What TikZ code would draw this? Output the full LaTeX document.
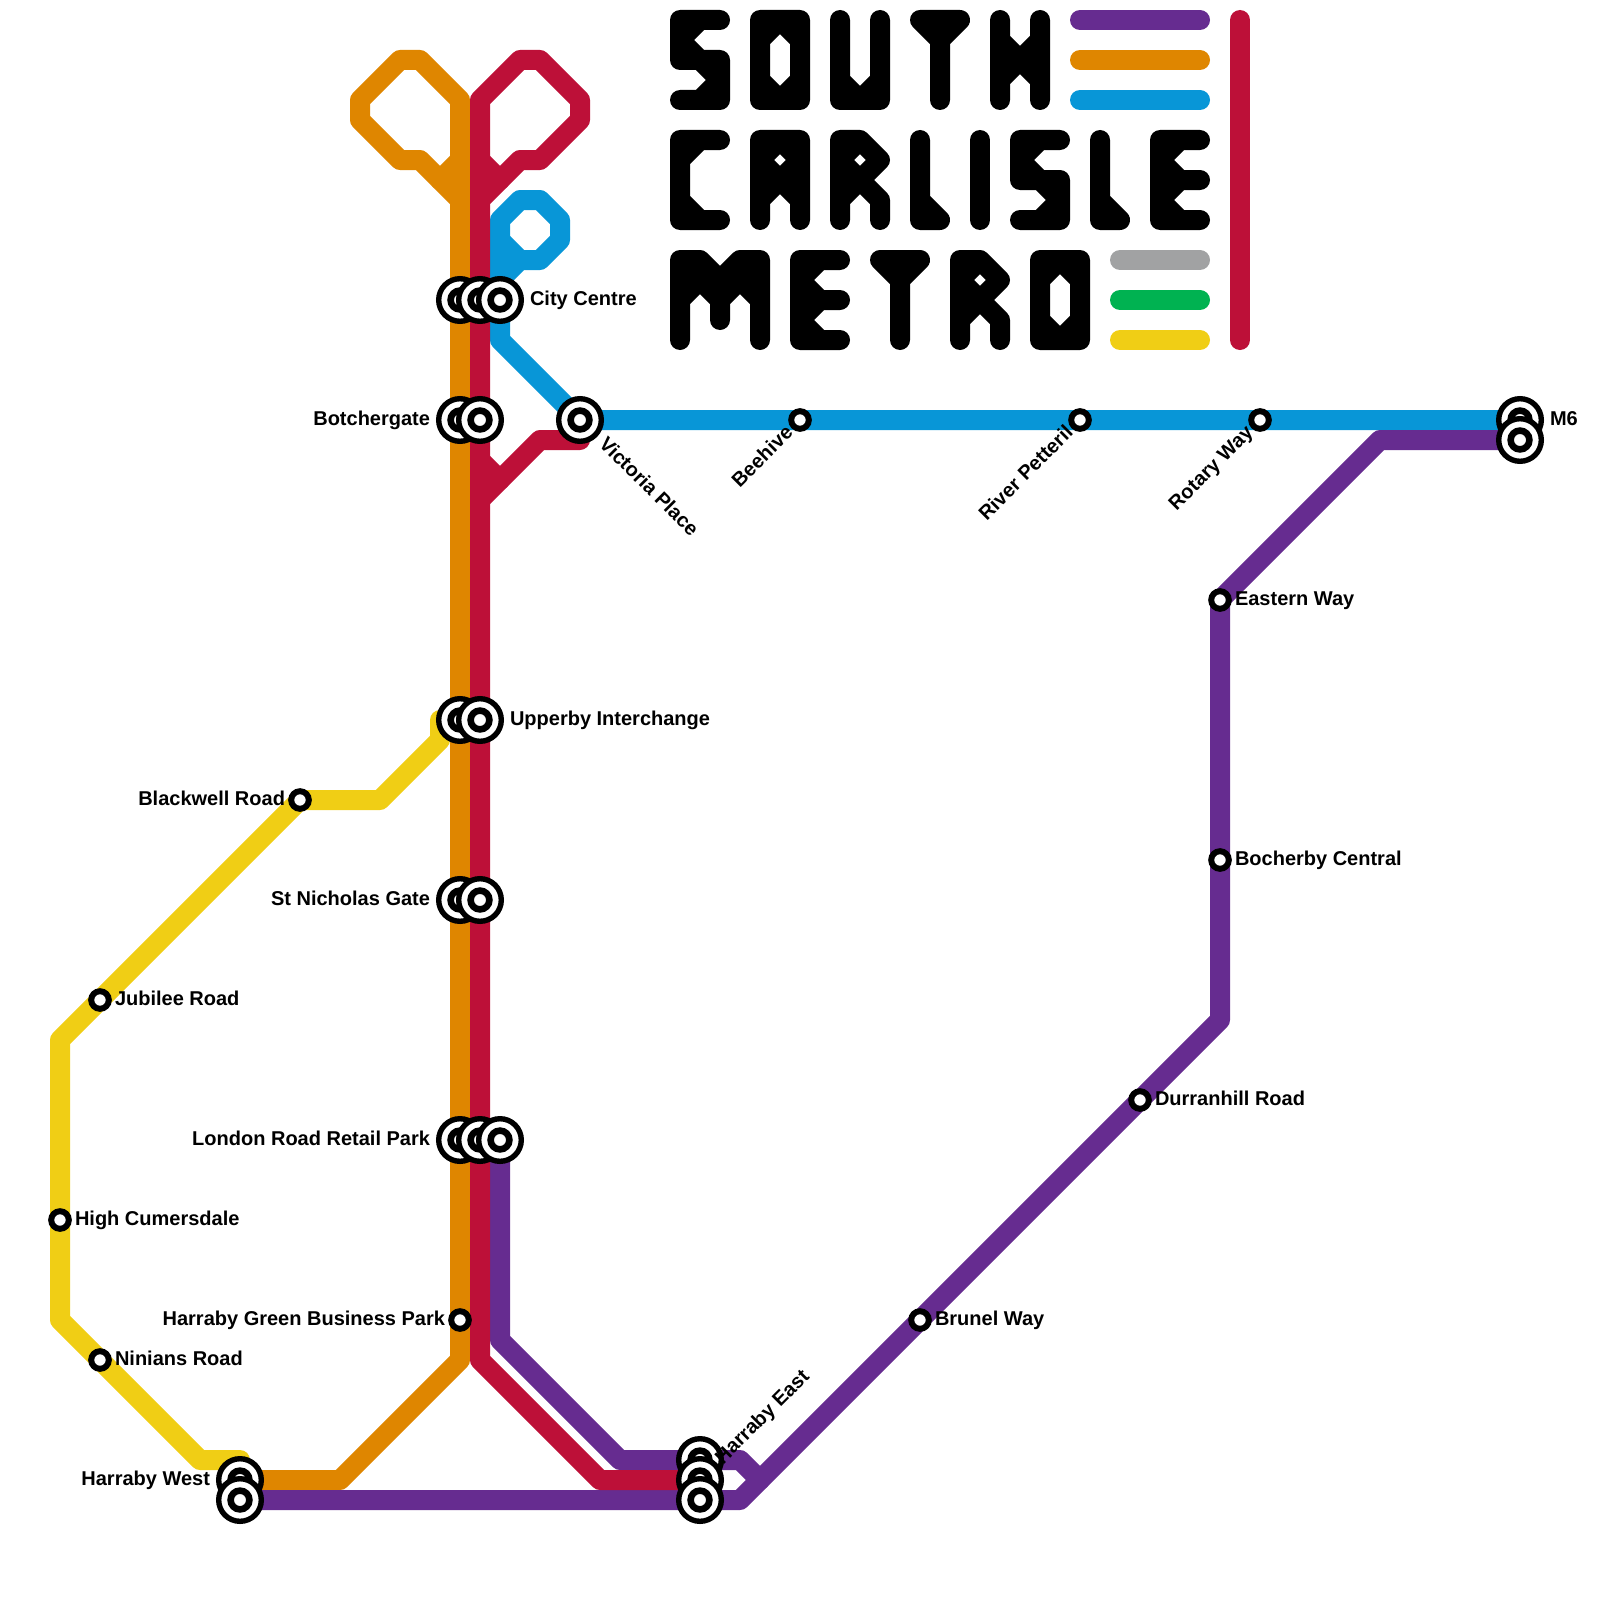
\documentclass[tikz,border=0pt]{standalone}
\usepackage{fontspec}
\setmainfont{Liberation Sans}
\definecolor{mpurple}{HTML}{662C90}
\definecolor{morange}{HTML}{DF8600}
\definecolor{mblue}{HTML}{0896D7}
\definecolor{mred}{HTML}{BD1038}
\definecolor{mgray}{HTML}{A1A2A3}
\definecolor{mgreen}{HTML}{00B251}
\definecolor{myellow}{HTML}{F0CE15}
\tikzset{
  metro/.style={line width=20pt,line join=round,line cap=round},
  glyph/.style={metro,black},
  bigring/.style={circle,draw=black,fill=white,line width=5.4pt,minimum size=42.6pt,inner sep=0pt,outer sep=0pt},
  biginner/.style={circle,draw=black,fill=white,line width=6.6pt,minimum size=18.8pt,inner sep=0pt,outer sep=0pt},
  smallring/.style={circle,draw=black,fill=white,line width=6pt,minimum size=17.6pt,inner sep=0pt,outer sep=0pt},
  lbl/.style={font=\fontsize{20}{24}\selectfont\bfseries,inner sep=0pt,outer sep=0pt,text=black},
}
\newcommand{\bigst}[3]{\node[bigring] (#1) at (#2,#3) {};\node[biginner] (#1i) at (#1) {};}
\newcommand{\glS}[2]{\begin{scope}[shift={(#1,#2)},x=20pt,y=-20pt]
 \draw[glyph] (2,0)--(0,0)--(0,2)--(2,2)--(2,4)--(0,4) (1,0)--(0,1)--(1,2)--(2,3)--(1,4);
\end{scope}}
\newcommand{\glO}[2]{\begin{scope}[shift={(#1,#2)},x=20pt,y=-20pt]
 \draw[glyph] (0,0)--(2,0)--(2,4)--(0,4)--cycle (0,1)--(1,0)--(2,1) (0,3)--(1,4)--(2,3);
\end{scope}}
\newcommand{\glU}[2]{\begin{scope}[shift={(#1,#2)},x=20pt,y=-20pt]
 \draw[glyph] (0,0)--(0,4)--(2,4)--(2,0) (0,3)--(1,4)--(2,3);
\end{scope}}
\newcommand{\glT}[2]{\begin{scope}[shift={(#1,#2)},x=20pt,y=-20pt]
 \draw[glyph] (0,0)--(2,0)--(1,1)--(0,0) (1,0)--(1,4);
\end{scope}}
\newcommand{\glH}[2]{\begin{scope}[shift={(#1,#2)},x=20pt,y=-20pt]
 \draw[glyph] (0,0)--(0,4) (2,0)--(2,4) (0,1)--(1,2)--(2,1) (0,3)--(1,2)--(2,3) (0,2)--(2,2);
\end{scope}}
\newcommand{\glC}[2]{\begin{scope}[shift={(#1,#2)},x=20pt,y=-20pt]
 \draw[glyph] (2,0)--(0,0)--(0,4)--(2,4) (1,0)--(0,1) (1,4)--(0,3);
\end{scope}}
\newcommand{\glA}[2]{\begin{scope}[shift={(#1,#2)},x=20pt,y=-20pt]
 \draw[glyph] (0,4)--(0,0)--(2,0)--(2,4) (0,2)--(2,2) (0,1)--(1,0)--(2,1)--(1,2)--cycle (0,3)--(1,2)--(2,3);
\end{scope}}
\newcommand{\glR}[2]{\begin{scope}[shift={(#1,#2)},x=20pt,y=-20pt]
 \draw[glyph] (0,4)--(0,0)--(1,0)--(2,1)--(1,2)--(2,3)--(2,4) (0,2)--(1,2) (1,0)--(0,1)--(1,2)--(0,3);
\end{scope}}
\newcommand{\glL}[2]{\begin{scope}[shift={(#1,#2)},x=20pt,y=-20pt]
 \draw[glyph] (0,0)--(0,4)--(1,4)--(0,3);
\end{scope}}
\newcommand{\glI}[2]{\begin{scope}[shift={(#1,#2)},x=20pt,y=-20pt]
 \draw[glyph] (0,0)--(0,4);
\end{scope}}
\newcommand{\glE}[2]{\begin{scope}[shift={(#1,#2)},x=20pt,y=-20pt]
 \draw[glyph] (2,0)--(0,0)--(0,4)--(2,4) (0,2)--(2,2) (1,0)--(0,1)--(1,2)--(0,3)--(1,4);
\end{scope}}
\newcommand{\glM}[2]{\begin{scope}[shift={(#1,#2)},x=20pt,y=-20pt]
 \draw[glyph] (0,4)--(0,0)--(1,0)--(2,1)--(3,0)--(4,0)--(4,4) (2,1)--(2,3) (0,2)--(1,1)--(2,2)--(3,1)--(4,2) (0,1)--(4,1) (1,0)--(1,1) (3,0)--(3,1);
\end{scope}}
\begin{document}
\begin{tikzpicture}[x=1pt,y=-1pt]
\useasboundingbox (0,0) rectangle (1600,1600);
% named stops
\foreach \n/\x/\y in {cco/460/300,ccr/480/300,ccb/500/300,boto/460/420,botr/480/420,vic/580/420,
  upo/460/720,upr/480/720,sno/460/900,snr/480/900,lro/460/1140,lrr/480/1140,lrp/500/1140,
  heu/700/1460,hem/700/1480,hel/700/1500,hwu/240/1480,hwl/240/1500,mu/1520/420,ml/1520/440,
  hg/460/1320}
  {\coordinate (\n) at (\x,\y);}
% lines
\draw[metro,myellow] (upo)--(440,720)--(440,740)--(380,800)--(300,800)--(60,1040)--(60,1320)--(200,1460)--(240,1460)--(hwu);
\draw[metro,mblue] (mu)--(vic)--(500,340)--(500,220)--(520,200)--(540,200)--(560,220)--(560,240)--(540,260)--(520,260)--(500,280);
\draw[metro,mblue] (500,240)--(520,260);
\draw[metro,morange] (hwu)--(340,1480)--(460,1360)--(460,100)--(420,60)--(400,60)--(360,100)--(360,120)--(400,160)--(420,160)--(460,200);
\draw[metro,morange] (460,160)--(440,180);
\draw[metro,mpurple] (ml)--(1380,440)--(1220,600)--(1220,1020)--(740,1500)--(hwl);
\draw[metro,mpurple] (lrp)--(500,1340)--(620,1460)--(740,1460)--(760,1480);
\draw[metro,mred] (hem)--(600,1480)--(480,1360)--(480,100)--(520,60)--(540,60)--(580,100)--(580,120)--(540,160)--(520,160)--(480,200);
\draw[metro,mred] (480,160)--(500,180);
\draw[metro,mred] (vic)--(580,440)--(540,440)--(480,500);
\draw[metro,mred] (480,460)--(500,480);
% title
\glS{680}{20}\glO{760}{20}\glU{840}{20}\glT{920}{20}\glH{1000}{20}
\glC{680}{140}\glA{760}{140}\glR{840}{140}\glL{920}{140}\glI{980}{140}\glS{1020}{140}\glL{1100}{140}\glE{1160}{140}
\glM{680}{260}\glE{800}{260}\glT{880}{260}\glR{960}{260}\glO{1040}{260}
% legend
\draw[metro,mpurple] (1080,20)--(1200,20);
\draw[metro,morange] (1080,60)--(1200,60);
\draw[metro,mblue] (1080,100)--(1200,100);
\draw[metro,mgray] (1120,260)--(1200,260);
\draw[metro,mgreen] (1120,300)--(1200,300);
\draw[metro,myellow] (1120,340)--(1200,340);
\draw[metro,mred] (1240,20)--(1240,340);
% big stations
\bigst{Scco}{460}{300}\bigst{Sccr}{480}{300}\bigst{Sccb}{500}{300}
\bigst{Sboto}{460}{420}\bigst{Sbotr}{480}{420}
\bigst{Svic}{580}{420}
\bigst{Supo}{460}{720}\bigst{Supr}{480}{720}
\bigst{Ssno}{460}{900}\bigst{Ssnr}{480}{900}
\bigst{Slro}{460}{1140}\bigst{Slrr}{480}{1140}\bigst{Slrp}{500}{1140}
\bigst{Sheu}{700}{1460}\bigst{Shem}{700}{1480}\bigst{Shel}{700}{1500}
\bigst{Shwu}{240}{1480}\bigst{Shwl}{240}{1500}
\bigst{Smu}{1520}{420}\bigst{Sml}{1520}{440}
% small stations
\foreach \n/\x/\y in {bee/800/420,riv/1080/420,rot/1260/420,eas/1220/600,boc/1220/860,dur/1140/1100,bru/920/1320,
  hgb/460/1320,bla/300/800,jub/100/1000,hig/60/1220,nin/100/1360}
  {\node[smallring] (\n) at (\x,\y) {};}
% labels
\node[lbl,anchor=base west] (lcc) at (530,305) {City Centre};
\node[lbl,anchor=base east] (lbot) at (430,425) {Botchergate};
\node[lbl,anchor=base west,rotate=-45] (lvic) at (598,445) {Victoria Place};
\node[lbl,anchor=base east,rotate=45] (lbee) at (794,434) {Beehive};
\node[lbl,anchor=base east,rotate=45] (lriv) at (1074,434) {River Petteril};
\node[lbl,anchor=base east,rotate=45] (lrot) at (1254,434) {Rotary Way};
\node[lbl,anchor=base west] (lm6) at (1550,425) {M6};
\node[lbl,anchor=base west] (leas) at (1235,605) {Eastern Way};
\node[lbl,anchor=base west] (lboc) at (1235,865) {Bocherby Central};
\node[lbl,anchor=base west] (ldur) at (1155,1105) {Durranhill Road};
\node[lbl,anchor=base west] (lbru) at (935,1325) {Brunel Way};
\node[lbl,anchor=base west,rotate=45] (lhe) at (723,1465) {Harraby East};
\node[lbl,anchor=base east] (lhw) at (210,1485) {Harraby West};
\node[lbl,anchor=base east] (lhg) at (445,1325) {Harraby Green Business Park};
\node[lbl,anchor=base east] (llr) at (430,1145) {London Road Retail Park};
\node[lbl,anchor=base east] (lsn) at (430,905) {St Nicholas Gate};
\node[lbl,anchor=base west] (lup) at (510,725) {Upperby Interchange};
\node[lbl,anchor=base east] (lbla) at (285,805) {Blackwell Road};
\node[lbl,anchor=base west] (ljub) at (115,1005) {Jubilee Road};
\node[lbl,anchor=base west] (lhig) at (75,1225) {High Cumersdale};
\node[lbl,anchor=base west] (lnin) at (115,1365) {Ninians Road};
\end{tikzpicture}
\end{document}
